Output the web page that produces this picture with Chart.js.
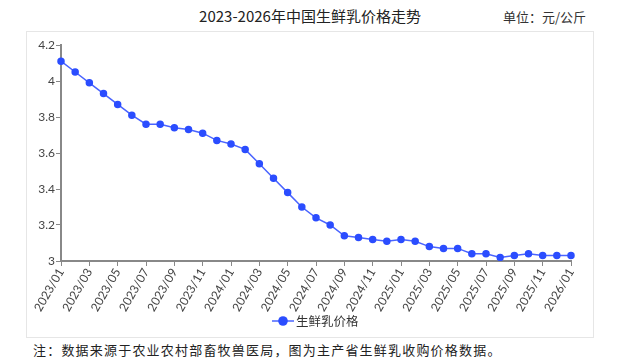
<!DOCTYPE html>
<html>
<head>
<meta charset="utf-8">
<script src="https://cdn.jsdelivr.net/npm/chart.js@4"></script>
<style>
  body { margin: 0; background: #fff; width: 619px; height: 361px; position: relative; overflow: hidden; font-family: "Noto Sans CJK SC", sans-serif; }
  #title { position: absolute; left: 0; width: 620px; top: 5px; text-align: center; font-size: 15px; color: #222; }
  #unit { position: absolute; right: 33px; top: 7px; font-size: 13px; color: #333; }
  #box { position: absolute; left: 26px; top: 31px; width: 566px; height: 305px; border: 1px solid #e6e6e6; }
  #note { position: absolute; left: 33px; top: 340px; font-size: 13px; letter-spacing: 1.2px; color: #222; }
</style>
</head>
<body>
<div id="title">2023-2026年中国生鲜乳价格走势</div>
<div id="unit">单位：元/公斤</div>
<div id="box"><canvas id="c" width="566" height="305"></canvas></div>
<div id="note">注：数据来源于农业农村部畜牧兽医局，图为主产省生鲜乳收购价格数据。</div>
<script>
// months 2023/01 .. 2026/01
const months = [
  '2023/01','2023/02','2023/03','2023/04','2023/05','2023/06','2023/07','2023/08','2023/09','2023/10','2023/11','2023/12',
  '2024/01','2024/02','2024/03','2024/04','2024/05','2024/06','2024/07','2024/08','2024/09','2024/10','2024/11','2024/12',
  '2025/01','2025/02','2025/03','2025/04','2025/05','2025/06','2025/07','2025/08','2025/09','2025/10','2025/11','2025/12',
  '2026/01'
];
// price, yuan/kg
const prices = [
  4.11, 4.05, 3.99, 3.93, 3.87, 3.81, 3.76, 3.76, 3.74, 3.73, 3.71, 3.67,
  3.65, 3.62, 3.54, 3.46, 3.38, 3.30, 3.24, 3.20, 3.14, 3.13, 3.12, 3.11,
  3.12, 3.11, 3.08, 3.07, 3.07, 3.04, 3.04, 3.02, 3.03, 3.04, 3.03, 3.03,
  3.03
];
const seriesName = '生鲜乳价格';
const lineColor = '#2b4dff';
const axisColor = '#888888';
const tickFont = { family: 'Lato', size: 12 };

// legend: line with a dot, centered under the plot
const lineLegend = {
  id: 'lineLegend',
  afterDraw(chart) {
    const ctx = chart.ctx;
    const ds = chart.data.datasets[0];
    ctx.save();
    ctx.font = '12.5px "Noto Sans CJK SC"';
    const x0 = 245;
    const y = 289;
    ctx.strokeStyle = ds.borderColor;
    ctx.lineWidth = 1.5;
    ctx.beginPath(); ctx.moveTo(x0, y); ctx.lineTo(x0 + 22, y); ctx.stroke();
    ctx.fillStyle = ds.pointBackgroundColor;
    ctx.beginPath(); ctx.arc(x0 + 11, y, 4.8, 0, Math.PI * 2); ctx.fill();
    ctx.fillStyle = '#333';
    ctx.textBaseline = 'middle';
    ctx.fillText(ds.label, x0 + 24, y);
    ctx.restore();
  }
};

new Chart(document.getElementById('c').getContext('2d'), {
  type: 'line',
  data: {
    labels: months,
    datasets: [{
      label: seriesName,
      data: prices,
      borderColor: '#4a64ff',
      borderWidth: 1.5,
      pointBackgroundColor: lineColor,
      pointBorderColor: lineColor,
      pointRadius: 3,
      tension: 0
    }]
  },
  options: {
    responsive: false,
    animation: false,
    layout: { padding: { top: 13, right: 22, bottom: 24, left: 0 } },
    plugins: { legend: { display: false }, tooltip: { enabled: false } },
    scales: {
      x: {
        offset: false,
        afterBuildTicks: s => { s.ticks = s.ticks.filter((t, i) => i % 2 === 0); },
        afterFit: s => { s.height = 52; },
        grid: { drawOnChartArea: false, drawTicks: true, tickLength: 5, color: axisColor },
        border: { color: axisColor, width: 2 },
        ticks: { autoSkip: false, minRotation: 60, maxRotation: 60, padding: 0, color: '#444', font: tickFont }
      },
      y: {
        min: 3, max: 4.2,
        afterFit: s => { s.width = 34; },
        grid: { drawOnChartArea: false, drawTicks: true, tickLength: 5, color: axisColor },
        border: { color: axisColor, width: 2 },
        ticks: { stepSize: 0.2, padding: 1, color: '#444', font: tickFont,
                 callback: v => String(Number(v.toFixed(1))) }
      }
    }
  },
  plugins: [lineLegend]
});
</script>
</body>
</html>
